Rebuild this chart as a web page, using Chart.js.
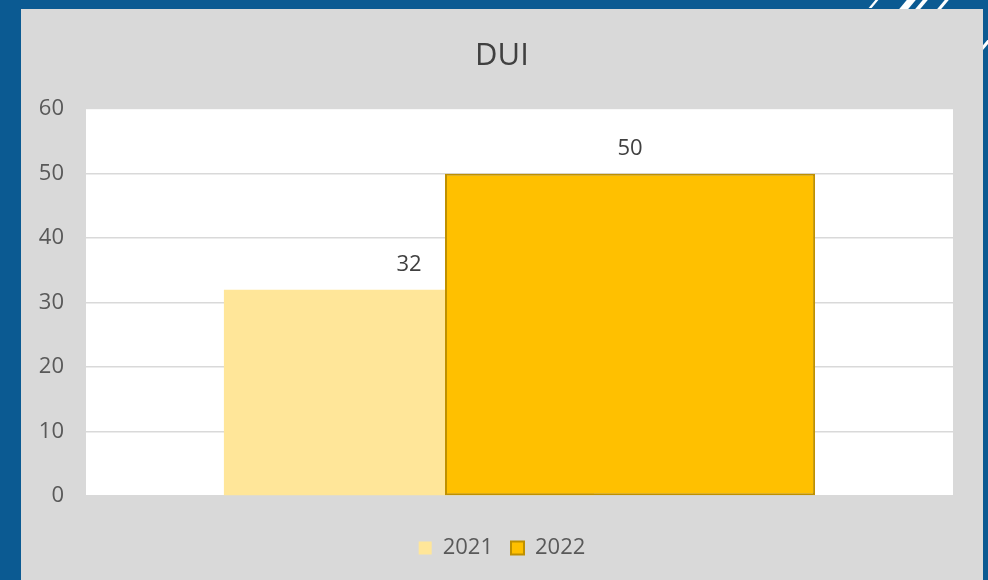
<!DOCTYPE html>
<html>
<head>
<meta charset="utf-8">
<title>DUI</title>
<script src="https://cdn.jsdelivr.net/npm/chart.js@4.4.0/dist/chart.umd.min.js"></script>
<style>
  html, body { margin: 0; padding: 0; }
  body { width: 988px; height: 580px; background: #0b5a92; position: relative; overflow: hidden; }
  .panel { position: absolute; left: 21px; top: 9px; width: 962px; height: 571px; background: #d9d9d9; }
  .stripe { position: absolute; background: #ffffff; transform: skewX(-40deg); }
</style>
</head>
<body>
<div class="stripe" style="left:872px; top:0; width:3px; height:8px;"></div>
<div class="stripe" style="left:903px; top:0; width:9px; height:9px;"></div>
<div class="stripe" style="left:919px; top:0; width:5px; height:9px;"></div>
<div class="stripe" style="left:941px; top:0; width:4px; height:9px;"></div>
<div class="stripe" style="left:984px; top:38px; width:4px; height:12px;"></div>
<div class="panel">
  <canvas id="chart" width="962" height="571"></canvas>
</div>
<script>
const categories = ["DUI"];
const values2021 = [32];
const values2022 = [50];
const yTicks = [0, 10, 20, 30, 40, 50, 60];

const FONT = "'Open Sans', sans-serif";
const TEXT = "#595959";

const plotBackground = {
  id: "plotBackground",
  beforeDraw(chart) {
    const { ctx, chartArea } = chart;
    ctx.save();
    ctx.fillStyle = "#ffffff";
    ctx.fillRect(chartArea.left, chartArea.top, chartArea.width, chartArea.height);
    ctx.restore();
  },
};

// later series sits on top where the bars overlap
const seriesOrder = {
  id: "seriesOrder",
  beforeDatasetDraw(chart, args) {
    if (args.index === 0) return false;
    if (args.index === 1) chart.getDatasetMeta(0).controller.draw();
  },
};

const valueLabels = {
  id: "valueLabels",
  afterDatasetsDraw(chart) {
    const { ctx } = chart;
    ctx.save();
    ctx.font = "22px " + FONT;
    ctx.fillStyle = "#404040";
    ctx.textAlign = "center";
    ctx.textBaseline = "middle";
    chart.data.datasets.forEach((ds, i) => {
      chart.getDatasetMeta(i).data.forEach((bar, j) => {
        ctx.fillText(ds.data[j], bar.x, bar.y - 25);
      });
    });
    ctx.restore();
  },
};

const ctx = document.getElementById("chart").getContext("2d");
new Chart(ctx, {
  type: "bar",
  data: {
    labels: categories,
    datasets: [
      {
        label: "2021",
        data: values2021,
        backgroundColor: "#ffe699",
        borderWidth: 0,
      },
      {
        label: "2022",
        data: values2022,
        backgroundColor: "#ffc000",
        borderColor: "#bf9000",
        borderWidth: 2,
        borderSkipped: false,
      },
    ],
  },
  options: {
    responsive: false,
    animation: false,
    datasets: {
      bar: {
        categoryPercentage: 0.51,
        barPercentage: 1.674,
      },
    },
    layout: { padding: { left: 0, right: 0, top: 0, bottom: 11 } },
    scales: {
      x: {
        grid: { display: false },
        border: { display: false },
        ticks: { display: false },
        afterFit: (s) => { s.height = 23; },
      },
      y: {
        min: 0,
        max: 60,
        afterBuildTicks: (s) => { s.ticks = yTicks.map((v) => ({ value: v })); },
        ticks: { padding: 22, color: TEXT, font: { family: FONT, size: 22 } },
        grid: {
          color: (c) => (c.tick && c.tick.value === 60 ? "rgba(0,0,0,0)" : "#d9d9d9"),
          lineWidth: 1.5,
          drawTicks: false,
        },
        border: { display: false },
        afterFit: (s) => { s.width = 65; },
      },
      // empty strip on the right of the plot
      yRight: {
        type: "linear",
        position: "right",
        grid: { display: false },
        border: { display: false },
        ticks: { display: false },
        afterFit: (s) => { s.width = 30; },
      },
    },
    plugins: {
      title: {
        display: true,
        text: "DUI",
        color: "#404040",
        font: { family: FONT, size: 31, weight: "normal" },
        padding: { top: 29, bottom: 34 },
      },
      legend: {
        position: "bottom",
        labels: {
          boxWidth: 13,
          boxHeight: 13,
          padding: 18,
          color: TEXT,
          font: { family: FONT, size: 22 },
        },
      },
      tooltip: { enabled: false },
    },
  },
  plugins: [plotBackground, seriesOrder, valueLabels],
});
</script>
</body>
</html>
